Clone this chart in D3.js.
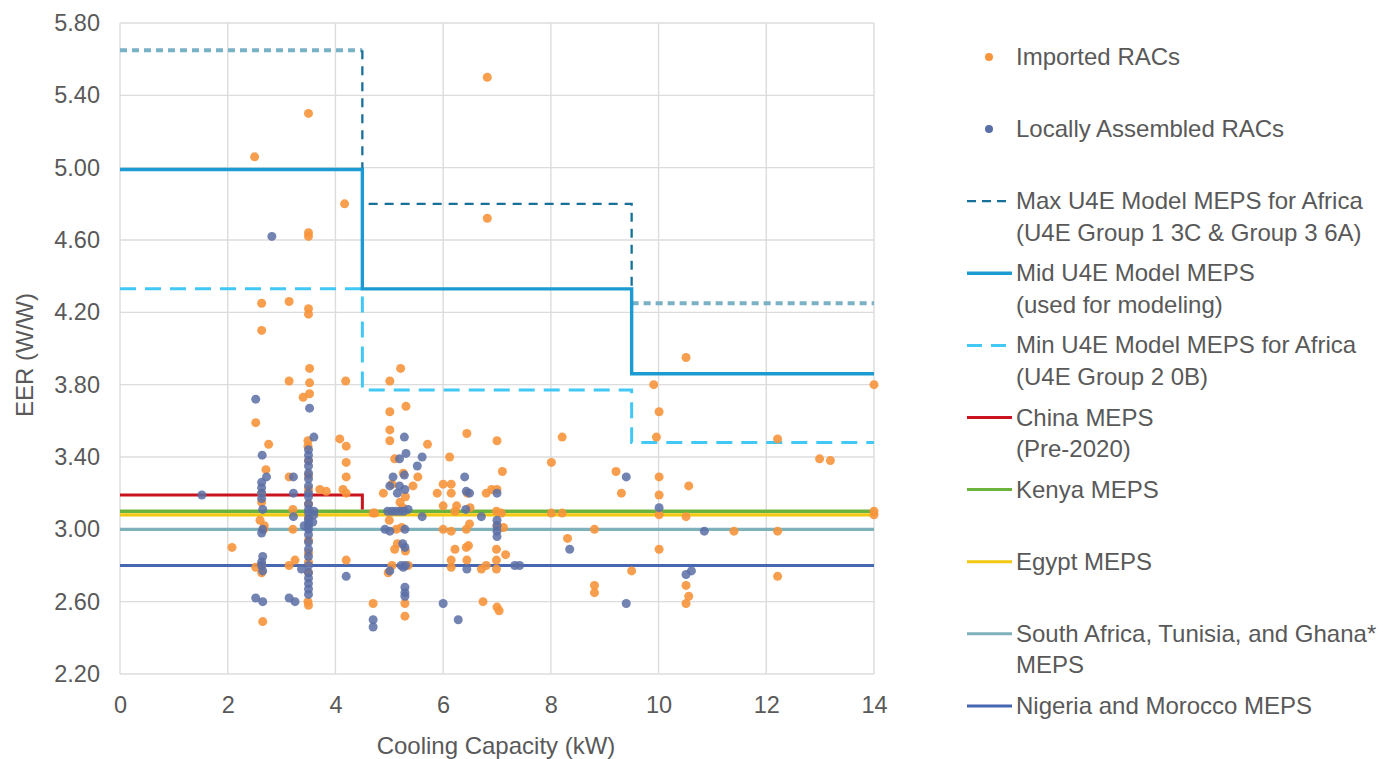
<!DOCTYPE html>
<html>
<head>
<meta charset="utf-8">
<script src="https://cdn.jsdelivr.net/npm/d3@7"></script>
<style>
  body { margin: 0; background: #fff; }
  svg text { font-family: "Liberation Sans", Arial, sans-serif; fill: #595959; }
</style>
</head>
<body>
<svg id="chart" width="1383" height="759"></svg>
<script>
// EER of RACs vs cooling capacity
var imported = [
  [2.5,5.06],[3.5,5.30],[6.82,5.50],[4.17,4.80],[3.5,4.64],[3.5,4.62],[6.82,4.72],
  [2.63,4.25],[2.63,4.10],[3.14,4.26],[3.5,4.22],[3.5,4.19],
  [3.52,3.89],[3.14,3.82],[3.52,3.81],[4.19,3.82],[3.40,3.73],[3.52,3.75],
  [2.52,3.59],[2.76,3.47],[3.49,3.49],[3.49,3.46],[4.08,3.50],[4.2,3.46],[4.2,3.37],[4.2,3.29],[2.71,3.33],
  [3.14,3.29],[3.71,3.22],[3.83,3.21],[4.14,3.22],[4.2,3.20],[4.7,3.09],[3.21,3.11],[3.21,3.00],
  [2.6,3.05],[2.67,3.00],[2.08,2.90],[2.52,2.79],[3.14,2.80],[3.25,2.83],[4.2,2.83],[3.49,2.60],[2.65,2.49],[4.7,2.59],
  [3.5,3.38],[3.5,3.30],[3.5,3.22],[3.5,3.14],[3.5,3.06],[3.5,2.94],[3.5,2.87],[3.5,2.82],[3.5,2.76],[3.5,2.58],
  [2.63,3.20],[2.63,3.15],[2.68,3.02],[2.63,2.80],[2.63,2.76],
  [5.21,3.89],[5.01,3.82],[5.01,3.65],[5.31,3.68],[5.01,3.55],[5.01,3.49],[5.71,3.47],[5.10,3.39],
  [5.26,3.31],[5.53,3.29],[5.44,3.24],[4.89,3.20],[4.73,3.09],[5.13,3.00],[5.23,3.01],[5.10,2.89],
  [4.98,2.76],[5.29,2.59],[5.29,2.52],[5.2,3.15],[5.3,3.18],[5.05,3.25],[5.25,3.12],[5.15,2.92],
  [5.3,2.88],[5.05,2.80],[5.35,2.80],[5.0,3.05],
  [6.12,3.40],[6.44,3.53],[7.0,3.49],[7.10,3.32],[5.89,3.20],[6.15,3.25],[6.15,3.20],[6.80,3.20],
  [6.25,3.13],[6.22,3.10],[6.99,3.10],[7.08,3.09],[6.0,3.00],[6.15,2.99],[6.43,3.00],[6.49,3.03],
  [7.12,3.01],[6.22,2.89],[6.43,2.90],[6.47,2.91],[6.99,2.89],[7.16,2.86],[6.15,2.83],[6.15,2.79],
  [6.44,2.83],[6.71,2.78],[6.80,2.80],[6.99,2.83],[6.99,2.78],[6.74,2.60],[7.0,2.57],[7.04,2.55],
  [6.0,3.25],[6.0,3.13],[6.9,3.22],[7.0,3.22],[6.45,3.20],[6.5,3.12],[7.0,3.02],
  [8.21,3.51],[8.01,3.37],[9.21,3.32],[9.31,3.20],[8.01,3.09],[8.21,3.09],[8.81,3.00],[8.31,2.95],
  [9.50,2.77],[8.81,2.69],[8.81,2.65],
  [10.51,3.95],[9.91,3.80],[10.01,3.65],[9.96,3.51],[12.21,3.50],[10.01,3.29],[10.56,3.24],[10.01,3.19],
  [10.01,3.08],[10.51,3.07],[11.40,2.99],[12.21,2.99],[10.01,2.89],[10.51,2.69],[10.56,2.63],[10.51,2.59],
  [12.21,2.74],[14.0,3.80],[12.99,3.39],[13.19,3.38],[14.0,3.08],[14.0,3.10]
];

var local = [
  [2.82,4.62],[2.52,3.72],[3.60,3.51],[3.52,3.67],[2.64,3.41],[2.72,3.29],[1.52,3.19],[3.22,3.29],
  [3.22,3.20],[3.22,3.07],[2.65,3.11],[2.65,3.00],[2.65,2.85],[2.65,2.77],[3.37,2.78],[4.2,2.74],
  [2.52,2.62],[2.65,2.60],[3.14,2.62],[3.25,2.60],[4.70,2.50],[4.70,2.46],
  [2.63,3.26],[2.63,3.23],[2.63,3.20],[2.63,3.17],[2.63,2.98],[2.63,2.80],[2.63,2.82],
  [3.5,3.44],[3.5,3.41],[3.5,3.38],[3.5,3.35],[3.5,3.31],[3.5,3.28],[3.5,3.24],[3.5,3.20],[3.5,3.18],
  [3.5,3.14],[3.5,3.11],[3.5,3.09],[3.5,3.06],[3.5,3.04],[3.5,3.02],[3.5,3.00],[3.5,2.97],[3.5,2.93],
  [3.5,2.89],[3.5,2.85],[3.5,2.80],[3.5,2.76],[3.5,2.73],[3.5,2.70],[3.5,2.67],[3.5,2.64],
  [3.6,3.10],[3.6,3.08],[3.58,3.04],[3.42,3.02],
  [5.28,3.51],[5.31,3.42],[5.19,3.39],[5.61,3.40],[5.52,3.35],[5.07,3.29],[5.01,3.24],[5.19,3.24],
  [5.29,3.22],[4.97,3.10],[5.05,3.10],[5.12,3.10],[5.2,3.10],[5.27,3.10],[5.35,3.11],[5.61,3.07],
  [4.92,3.00],[5.01,2.99],[5.29,3.00],[5.29,2.90],[5.25,2.92],[5.26,2.79],[5.3,2.80],[5.22,2.80],
  [5.01,2.77],[5.29,2.68],[5.29,2.65],[5.29,2.63],[5.28,3.30],[5.15,3.20],
  [6.40,3.29],[6.43,3.21],[6.49,3.20],[7.00,3.20],[6.42,3.11],[6.71,3.07],[7.0,3.05],[7.0,3.02],
  [7.0,2.99],[7.0,2.96],[6.44,2.78],[7.33,2.80],[7.42,2.80],[6.0,2.59],[6.28,2.50],
  [9.40,3.29],[8.35,2.89],[9.40,2.59],[10.01,3.12],[10.85,2.99],[10.51,2.75],[10.61,2.77]
];

// MEPS levels (step lines)
var maxMeps = [[0,5.65],[4.5,5.65],[4.5,4.80],[9.5,4.80],[9.5,4.25],[14,4.25]];
var midMeps = [[0,4.99],[4.5,4.99],[4.5,4.33],[9.5,4.33],[9.5,3.86],[14,3.86]];
var minMeps = [[0,4.33],[4.5,4.33],[4.5,3.77],[9.5,3.77],[9.5,3.48],[14,3.48]];
var chinaMeps = [[0,3.19],[4.5,3.19],[4.5,3.11]];
var kenyaMeps = [[0,3.10],[14,3.10]];
var egyptMeps = [[0,3.08],[14,3.08]];
var saMeps = [[0,3.00],[14,3.00]];
var nigeriaMeps = [[0,2.80],[14,2.80]];

var xTicks = [0,2,4,6,8,10,12,14];
var yTicks = [2.2,2.6,3.0,3.4,3.8,4.2,4.6,5.0,5.4,5.8];

var legendLabels = [
  ["Imported RACs"],
  ["Locally Assembled RACs"],
  ["Max U4E Model MEPS for Africa", "(U4E Group 1 3C & Group 3 6A)"],
  ["Mid U4E Model MEPS", "(used for modeling)"],
  ["Min U4E Model MEPS for Africa", "(U4E Group 2 0B)"],
  ["China MEPS", "(Pre-2020)"],
  ["Kenya MEPS"],
  ["Egypt MEPS"],
  ["South Africa, Tunisia, and Ghana*", "MEPS"],
  ["Nigeria and Morocco MEPS"]
];

var svg = d3.select("#chart");

var x = d3.scaleLinear().domain([0, 14]).range([120, 874]);
var y = d3.scaleLinear().domain([2.2, 5.8]).range([674, 23]);

// grid
var grid = svg.append("g");
grid.selectAll("line.h").data(yTicks).enter().append("line")
  .attr("x1", x(0)).attr("x2", x(14))
  .attr("y1", function(d){ return y(d); }).attr("y2", function(d){ return y(d); })
  .attr("stroke", "#dcdcdc").attr("stroke-width", 1.4);
grid.selectAll("line.v").data(xTicks).enter().append("line")
  .attr("y1", y(2.2)).attr("y2", y(5.8))
  .attr("x1", function(d){ return x(d); }).attr("x2", function(d){ return x(d); })
  .attr("stroke", "#dcdcdc").attr("stroke-width", 1.4);

// axes labels via d3 axes, lines hidden
var xAxis = svg.append("g").attr("transform", "translate(0," + y(2.2) + ")")
  .call(d3.axisBottom(x).tickValues(xTicks).tickSize(0).tickPadding(22).tickFormat(d3.format("d")));
var yAxis = svg.append("g").attr("transform", "translate(" + x(0) + ",0)")
  .call(d3.axisLeft(y).tickValues(yTicks).tickSize(0).tickPadding(20).tickFormat(d3.format(".2f")));
[xAxis, yAxis].forEach(function(a){
  a.select(".domain").remove();
  a.selectAll("text").attr("font-size", 23.5).attr("fill", "#595959")
    .style("font-family", "'Liberation Sans', Arial, sans-serif");
});

svg.append("text").attr("x", 496).attr("y", 754).attr("text-anchor", "middle")
  .attr("font-size", 24).text("Cooling Capacity (kW)");
svg.append("text").attr("transform", "translate(33,355) rotate(-90)").attr("text-anchor", "middle")
  .attr("font-size", 24).text("EER (W/W)");

var line = d3.line().x(function(d){ return x(d[0]); }).y(function(d){ return y(d[1]); });

var series = [
  {data: nigeriaMeps, color: "#4767b2", width: 3.2, dash: null},
  {data: saMeps, color: "#7fb1bb", width: 3.2, dash: null},
  {data: egyptMeps, color: "#f2c811", width: 3.4, dash: null},
  {data: kenyaMeps, color: "#6cb33e", width: 3.4, dash: null},
  {data: chinaMeps, color: "#c9141f", width: 3, dash: null},
  {data: minMeps, color: "#41c8f4", width: 3, dash: "16,9"},
  {data: maxMeps.slice(0, 2), color: "#79b1c5", width: 4, dash: "7,5"},
  {data: maxMeps.slice(4, 6), color: "#79b1c5", width: 4, dash: "7,5"},
  {data: maxMeps.slice(1, 5), color: "#17709a", width: 2.3, dash: "9,7"},
  {data: midMeps, color: "#1b9bd1", width: 3.4, dash: null}
];

svg.append("g").selectAll("path").data(series).enter().append("path")
  .attr("d", function(d){ return line(d.data); })
  .attr("fill", "none")
  .attr("stroke", function(d){ return d.color; })
  .attr("stroke-width", function(d){ return d.width; })
  .attr("stroke-dasharray", function(d){ return d.dash; });

// points
svg.append("g").selectAll("circle").data(imported).enter().append("circle")
  .attr("cx", function(d){ return x(d[0]); }).attr("cy", function(d){ return y(d[1]); })
  .attr("r", 4.5).attr("fill", "#f7953c").attr("fill-opacity", 0.9);
svg.append("g").selectAll("circle").data(local).enter().append("circle")
  .attr("cx", function(d){ return x(d[0]); }).attr("cy", function(d){ return y(d[1]); })
  .attr("r", 4.5).attr("fill", "#5a6fa6").attr("fill-opacity", 0.85);

// legend
var legendKeys = [
  {type: "dot", color: "#f7953c"},
  {type: "dot", color: "#5a6fa6"},
  {type: "line", color: "#17709a", width: 2.3, dash: "9,6"},
  {type: "line", color: "#1b9bd1", width: 3.4},
  {type: "line", color: "#41c8f4", width: 3, dash: "15,9"},
  {type: "line", color: "#c9141f", width: 3},
  {type: "line", color: "#6cb33e", width: 3},
  {type: "line", color: "#f2c811", width: 3},
  {type: "line", color: "#7fb1bb", width: 3},
  {type: "line", color: "#4767b2", width: 3}
];

var legend = svg.append("g");
legendLabels.forEach(function(lines, i){
  var cy = 57 + i * 72.1;
  var key = legendKeys[i];
  if (key.type == "dot") {
    legend.append("circle").attr("cx", 989).attr("cy", cy).attr("r", 4).attr("fill", key.color);
  } else {
    legend.append("line").attr("x1", 967).attr("x2", 1012).attr("y1", cy).attr("y2", cy)
      .attr("stroke", key.color).attr("stroke-width", key.width)
      .attr("stroke-dasharray", key.dash || null);
  }
  var t = legend.append("text").attr("x", 1016).attr("y", cy + 8).attr("font-size", 24);
  lines.forEach(function(s, j){
    t.append("tspan").attr("x", 1016).attr("dy", j == 0 ? 0 : 31.5).text(s);
  });
});
</script>
</body>
</html>
